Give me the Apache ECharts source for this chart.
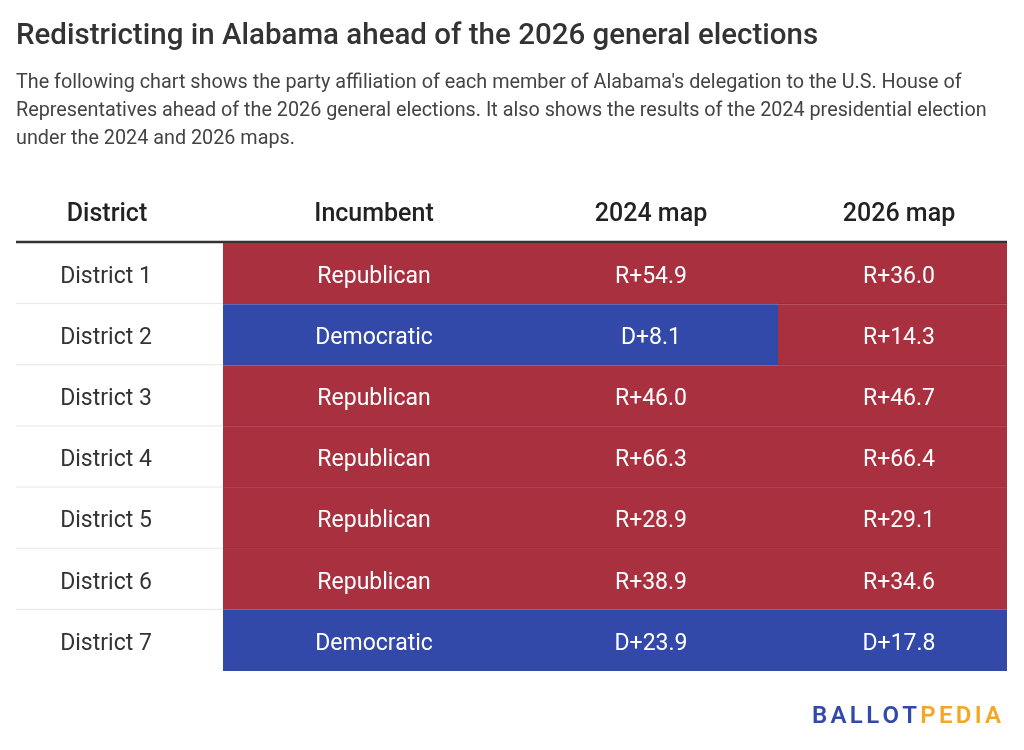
<!DOCTYPE html>
<html>
<head>
<meta charset="utf-8">
<script src="https://cdn.jsdelivr.net/npm/echarts@6/dist/echarts.min.js"></script>
<style>
  html, body { margin: 0; padding: 0; background: #fff; }
  #chart { width: 1024px; height: 750px; }
</style>
</head>
<body>
<div id="chart"></div>
<script>
// table data
const districts = ['District 1', 'District 2', 'District 3', 'District 4', 'District 5', 'District 6', 'District 7']
const columns = ['Incumbent', '2024 map', '2026 map']
const incumbent = ['Republican', 'Democratic', 'Republican', 'Republican', 'Republican', 'Republican', 'Democratic']
const map2024 = ['R+54.9', 'D+8.1', 'R+46.0', 'R+66.3', 'R+28.9', 'R+38.9', 'D+23.9']
const map2026 = ['R+36.0', 'R+14.3', 'R+46.7', 'R+66.4', 'R+29.1', 'R+34.6', 'D+17.8']

// column edges / text centres in x-axis units (grid starts at the coloured area)
const colEdges = [0, 303, 555, 784]
const colText = [151, 428, 676]
const districtText = -117

const RED = '#a8303f'
const BLUE = '#3349a9'
const FONT = 'Roboto, "Noto Sans", sans-serif'

function partyOf (v) {
  return (v === 'Democratic' || v.charAt(0) === 'D') ? 'D' : 'R'
}

let cells = []
districts.forEach((d, i) => {
  [incumbent[i], map2024[i], map2026[i]].forEach((v, c) => {
    cells.push([c, i, v])
  })
})

const chart = echarts.init(document.getElementById('chart'))

const renderCell = (params, api) => {
  const c = api.value(0)
  const row = api.value(1)
  const label = cells[params.dataIndex][2]
  const p0 = api.coord([colEdges[c], row])
  const p1 = api.coord([colEdges[c + 1], row])
  const h = api.size([0, 1])[1]
  const top = p0[1] - h / 2
  const party = partyOf(label)
  const fill = party === 'D' ? BLUE : RED
  const children = [{
    type: 'rect',
    shape: { x: p0[0], y: top, width: p1[0] - p0[0], height: h },
    style: { fill: fill }
  }]
  // thin separator between red rows
  const next = cells[params.dataIndex + 3]
  if (party === 'R' && next && partyOf(next[2]) === 'R') {
    children.push({
      type: 'line',
      shape: { x1: p0[0], y1: top + h - 0.5, x2: p1[0], y2: top + h - 0.5 },
      style: { stroke: '#9c2a38', lineWidth: 1 }
    })
  }
  // district name + light separator in the white first column
  if (c === 0) {
    if (row < districts.length - 1) {
      children.push({
        type: 'line',
        shape: { x1: 16, y1: top + h - 0.5, x2: p0[0], y2: top + h - 0.5 },
        style: { stroke: '#e6e6e6', lineWidth: 1 }
      })
    }
    const dp = api.coord([districtText, row])
    children.push({
      type: 'text',
      style: {
        x: dp[0], y: dp[1] + 3.5, text: districts[row], align: 'center', verticalAlign: 'middle',
        fill: '#333', font: '23px ' + FONT
      }
    })
  }
  const tp = api.coord([colText[c], row])
  children.push({
    type: 'text',
    style: {
      x: tp[0], y: tp[1] + 3.5, text: label, align: 'center', verticalAlign: 'middle',
      fill: '#fff', font: '23px ' + FONT
    }
  })
  return { type: 'group', children: children }
}

const headerStyle = { fill: '#222', font: '500 25px ' + FONT, align: 'center', verticalAlign: 'middle' }

// logo letters, spaced out like the original wordmark
const logoLetters = 'BALLOTPEDIA'.split('')
const logoText = logoLetters.map((ch, i) => (i < 6 ? '{b|' : '{o|') + ch + '}').join('')

const option = {
  animation: false,
  grid: { left: 223, right: 17, top: 243, bottom: 79 },
  xAxis: { type: 'value', min: 0, max: 784, show: false },
  yAxis: {
    type: 'category',
    data: districts,
    inverse: true,
    show: false
  },
  series: [{
    type: 'custom',
    renderItem: renderCell,
    data: cells,
    encode: { x: 0, y: 1 },
    clip: false
  }],
  graphic: [
    {
      type: 'text', left: 16, top: 22,
      style: { text: 'Redistricting in Alabama ahead of the 2026 general elections', fill: '#333', font: '500 29.5px ' + FONT }
    },
    {
      type: 'text', left: 16, top: 69,
      style: {
        text: 'The following chart shows the party affiliation of each member of Alabama\'s delegation to the U.S. House of\nRepresentatives ahead of the 2026 general elections. It also shows the results of the 2024 presidential election\nunder the 2024 and 2026 maps.',
        fill: '#444', font: '19.8px ' + FONT, lineHeight: 28
      }
    },
    { type: 'text', style: Object.assign({ x: 107, y: 214.5, text: 'District' }, headerStyle) },
    { type: 'text', style: Object.assign({ x: 223 + colText[0], y: 214.5, text: columns[0] }, headerStyle) },
    { type: 'text', style: Object.assign({ x: 223 + colText[1], y: 214.5, text: columns[1] }, headerStyle) },
    { type: 'text', style: Object.assign({ x: 223 + colText[2], y: 214.5, text: columns[2] }, headerStyle) },
    {
      type: 'line',
      shape: { x1: 16, y1: 242, x2: 1007, y2: 242 },
      style: { stroke: '#333', lineWidth: 2.5 }
    },
    {
      type: 'text', left: 812, top: 705,
      style: {
        text: logoText,
        rich: {
          b: { fill: '#3349a9', font: '600 24px ' + FONT, padding: [0, 3.3, 0, 0] },
          o: { fill: '#f5a623', font: '600 24px ' + FONT, padding: [0, 3.3, 0, 0] }
        }
      }
    }
  ]
}

chart.setOption(option)
</script>
</body>
</html>
